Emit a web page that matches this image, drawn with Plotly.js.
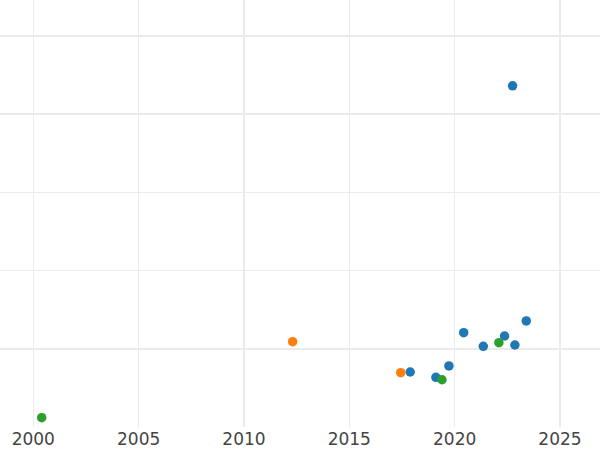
<!DOCTYPE html>
<html>
<head>
<meta charset="utf-8">
<script src="https://cdn.plot.ly/plotly-3.0.1.min.js"></script>
<style>html,body{margin:0;padding:0;background:#fff;}#chart{width:600px;height:450px;}</style>
</head>
<body>
<div id="chart"></div>
<script>
// Series A (blue)
const blueYears = [2022.75, 2017.89, 2019.11, 2019.73, 2020.43, 2021.36, 2022.37, 2022.86, 2023.40];
const blueValues = [4.36, 0.703, 0.635, 0.78, 1.205, 1.031, 1.163, 1.048, 1.355];
// Series B (orange)
const orangeYears = [2012.31, 2017.44];
const orangeValues = [1.09, 0.694];
// Series C (green)
const greenYears = [2000.40, 2019.40, 2022.10];
const greenValues = [0.119, 0.604, 1.077];
const xTickVals = [2000, 2005, 2010, 2015, 2020, 2025];
const xTickText = ['2000', '2005', '2010', '2015', '2020', '2025'];

const mk = (x, y, color) => ({
  x: x, y: y, type: 'scatter', mode: 'markers',
  marker: {color: color, size: 9.5}, showlegend: false, hoverinfo: 'x+y'
});

const data = [
  mk(blueYears, blueValues, '#1f77b4'),
  mk(orangeYears, orangeValues, '#ff7f0e'),
  mk(greenYears, greenValues, '#2ca02c')
];

const layout = {
  width: 600, height: 450,
  margin: {l: 0, r: 0, t: 0, b: 23, pad: 0},
  paper_bgcolor: '#fff', plot_bgcolor: '#fff',
  font: {family: 'DejaVu Sans', size: 17, color: '#444'},
  showlegend: false,
  xaxis: {
    range: [1998.42, 2026.90],
    tickvals: xTickVals, ticktext: xTickText,
    showgrid: true, gridcolor: '#ebebeb', gridwidth: 1.5,
    zeroline: false, showline: false, ticks: '',
    tickfont: {family: 'DejaVu Sans', size: 17, color: '#444'}
  },
  yaxis: {
    range: [0, 5.457],
    dtick: 1, tick0: 0,
    showgrid: true, gridcolor: '#ebebeb', gridwidth: 1.5,
    zeroline: false, showline: false, ticks: '',
    showticklabels: false
  }
};

Plotly.newPlot('chart', data, layout, {displayModeBar: false, staticPlot: true});
</script>
</body>
</html>
